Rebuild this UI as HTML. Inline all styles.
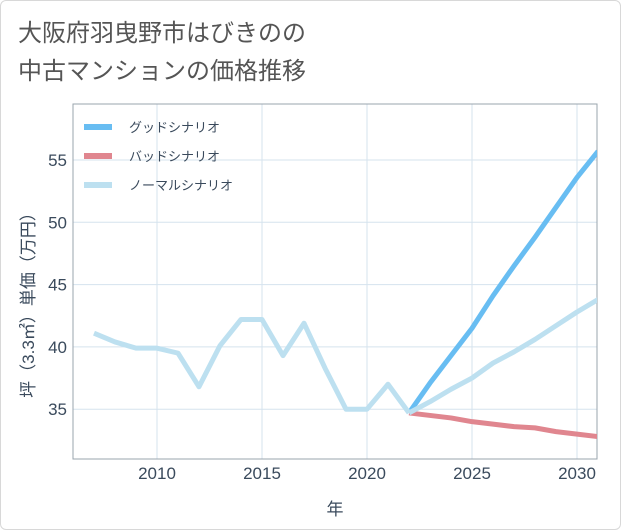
<!DOCTYPE html>
<html><head><meta charset="utf-8"><style>
body{margin:0;background:#fff;}
#wrap{position:relative;width:619px;height:528px;border:1px solid #d8d8d8;border-radius:6px;background:#fff;font-family:"Liberation Sans","Noto Sans CJK JP",sans-serif;}
#title{position:absolute;left:17px;top:14px;font-size:24px;line-height:38px;color:#555;}
svg{position:absolute;left:0;top:0;}
</style></head><body>
<div id="wrap">
<div id="title">大阪府羽曳野市はびきのの<br>中古マンションの価格推移</div>
<svg id="c" width="621" height="530"></svg>
</div>
<script>
const histYears=[2007,2008,2009,2010,2011,2012,2013,2014,2015,2016,2017,2018,2019,2020,2021,2022];
const histVals=[41.1,40.4,39.9,39.9,39.5,36.8,40.1,42.2,42.2,39.3,41.9,38.3,35.0,35.0,37.0,34.7];
const futYears=[2022,2023,2024,2025,2026,2027,2028,2029,2030,2031];
const goodVals=[34.7,37.1,39.3,41.5,44.1,46.5,48.8,51.2,53.6,55.7];
const badVals=[34.7,34.5,34.3,34.0,33.8,33.6,33.5,33.2,33.0,32.8];
const normalVals=[34.7,35.6,36.6,37.5,38.7,39.6,40.6,41.7,42.8,43.8];
const xTicks=[2010,2015,2020,2025,2030];
const yTicks=[35,40,45,50,55];
const L=72,T=103,R=596,B=458;
const xs=y=>156+(y-2010)*21;
const ys=v=>159+(55-v)*12.46;
const NS='http://www.w3.org/2000/svg';
const svg=document.getElementById('c');
function mk(tag,attrs){const e=document.createElementNS(NS,tag);for(const k in attrs)e.setAttribute(k,attrs[k]);svg.appendChild(e);return e;}
const defs=mk('defs',{});const cp=document.createElementNS(NS,'clipPath');cp.setAttribute('id','clip');const cr=document.createElementNS(NS,'rect');cr.setAttribute('x',L);cr.setAttribute('y',T);cr.setAttribute('width',R-L);cr.setAttribute('height',B-T);cp.appendChild(cr);defs.appendChild(cp);
xTicks.forEach(t=>{
 const g=mk('line',{x1:xs(t),x2:xs(t),y1:T,y2:B,stroke:'#d5e3ee','stroke-width':1});
 
 
 const tx=mk('text',{x:xs(t),y:B+20,'text-anchor':'middle','font-size':17,fill:'#3a4a5c'});
 tx.textContent=t;
 
 
});
yTicks.forEach(t=>{
 const g=mk('line',{x1:L,x2:R,y1:ys(t),y2:ys(t),stroke:'#d5e3ee','stroke-width':1});
 
 
 const tx=mk('text',{x:L-6,y:ys(t)+6,'text-anchor':'end','font-size':17,fill:'#3a4a5c'});
 tx.textContent=t;
 
 
});
const fr=mk('rect',{x:L,y:T,width:R-L,height:B-T,fill:'none',stroke:'#9aa4ad','stroke-width':1});


function line(xv,yv,color,name){
 const p=mk('polyline',{points:xv.map((x,i)=>xs(x)+','+ys(yv[i])).join(' '),fill:'none',stroke:color,'stroke-width':5,'stroke-linejoin':'round','clip-path':'url(#clip)'});
 
 
}
line(futYears,badVals,'#e0868f','bad-scenario-line');
line(futYears,goodVals,'#68bdf2','good-scenario-line');
line(histYears,histVals,'#bde0f0','history-line');
line(futYears,normalVals,'#bde0f0','normal-scenario-line');
const leg=[['グッドシナリオ','#68bdf2'],['バッドシナリオ','#e0868f'],['ノーマルシナリオ','#bde0f0']];
leg.forEach((l,i)=>{
 const y=126+i*29;
 const s=mk('line',{x1:83,x2:111,y1:y,y2:y,stroke:l[1],'stroke-width':6});
 
 
 const t=mk('text',{x:128,y:y+5,'font-size':13,fill:'#3a4a5c'});
 t.textContent=l[0];
 
 
});
const xt=mk('text',{x:334,y:514,'text-anchor':'middle','font-size':17,fill:'#3a4a5c'});
xt.textContent='年';


const yt=mk('text',{x:0,y:0,'text-anchor':'middle','font-size':17,fill:'#3a4a5c',transform:'translate(33,300) rotate(-90)'});
yt.textContent='坪（3.3㎡）単価（万円）';


</script>
</body></html>
